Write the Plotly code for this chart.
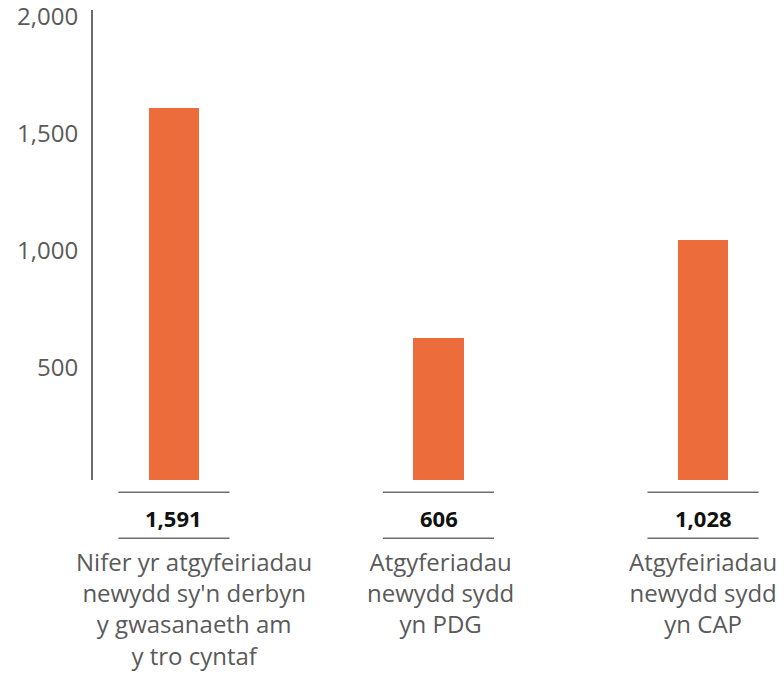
import plotly.graph_objects as go

categories = [
    "Nifer yr atgyfeiriadau<br>newydd sy'n derbyn<br>y gwasanaeth am<br>y tro cyntaf",
    "Atgyferiadau<br>newydd sydd<br>yn PDG",
    "Atgyfeiriadau<br>newydd sydd<br>yn CAP",
]
values = [1591, 606, 1028]
value_labels = ["1,591", "606", "1,028"]
tick_vals = [500, 1000, 1500, 2000]
tick_text = ["500", "1,000", "1,500", "2,000"]

BAR = "#EC6C3C"
GRAY = "#5a5a5a"
FONT = "Open Sans"

x_idx = list(range(len(values)))

fig = go.Figure(go.Bar(
    x=x_idx, y=values, width=0.19, marker=dict(color=BAR, line=dict(width=0)),
    hoverinfo="skip",
))

label_xshift = [20, 2, 0]
shapes = []
annotations = []
for i, (v, lab, cat) in enumerate(zip(values, value_labels, categories)):
    for yy in (-0.026, -0.124):
        shapes.append(dict(type="line", xref="x", yref="paper",
                           x0=i - 0.21, x1=i + 0.21, y0=yy, y1=yy,
                           line=dict(color="#6f6f6f", width=1.5)))
    annotations.append(dict(x=i, y=-0.08, xref="x", yref="paper", text=f"<b>{lab}</b>",
                            showarrow=False, yanchor="middle",
                            font=dict(family=FONT, size=22, color="#111111")))
    annotations.append(dict(x=i, y=-0.133, xref="x", yref="paper", text=cat,
                            showarrow=False, yanchor="top", xshift=label_xshift[i],
                            align="center",
                            font=dict(family=FONT, size=24, color=GRAY)))

fig.update_layout(
    width=784, height=674,
    margin=dict(l=93, r=0, t=10, b=193.5),
    paper_bgcolor="white", plot_bgcolor="white",
    showlegend=False,
    bargap=0,
    font=dict(family=FONT, size=24, color=GRAY),
    xaxis=dict(range=[-0.306, 2.306], showticklabels=False, showgrid=False,
               zeroline=False, showline=False, fixedrange=True, automargin=False),
    yaxis=dict(range=[0, 2011], tickvals=tick_vals, ticktext=tick_text,
               showgrid=False, zeroline=False, showline=True, linecolor="#6b6b6b",
               linewidth=2, ticks="outside", ticklen=8, tickcolor="rgba(0,0,0,0)",
               ticklabeloverflow="allow", automargin=False, ticklabelshift=4,
               tickfont=dict(family=FONT, size=24, color=GRAY), fixedrange=True),
    shapes=shapes,
    annotations=annotations,
)

fig.write_html("out.html", config={"displayModeBar": False},
               post_script="document.body.style.margin='0';")
